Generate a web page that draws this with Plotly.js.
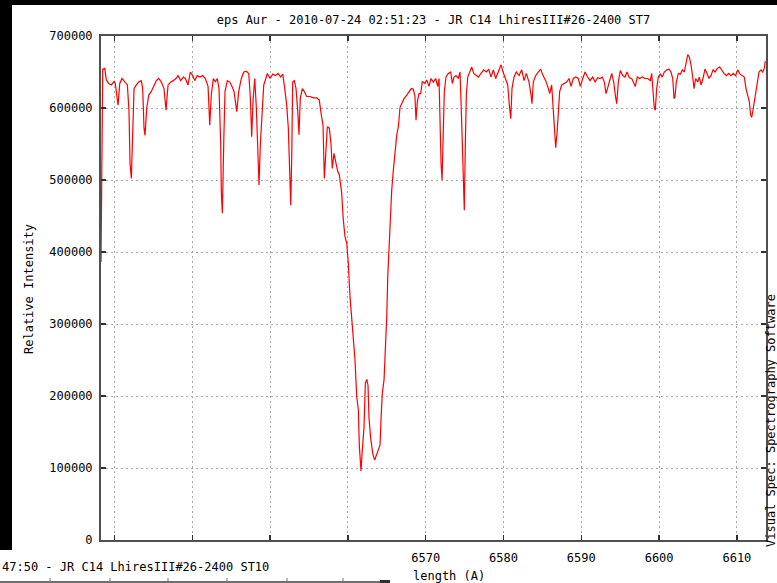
<!DOCTYPE html>
<html><head><meta charset="utf-8">
<script src="https://cdn.plot.ly/plotly-3.0.1.min.js"></script>
<style>html,body{margin:0;padding:0;background:#fff;}#chart{width:777px;height:583px;}</style>
</head><body><div id="chart"></div>
<script>
const wavelength = [
6528.26,6528.48,6528.74,6528.95,6529.25,6529.59,6529.94,6530.10,6530.45,6530.67,6530.96,6531.31,6531.65,6531.86,6531.99,6532.16,6532.34,6532.51,6532.80,6533.11,
6533.44,6533.62,6533.79,6533.92,6534.14,6534.40,6534.73,6535.08,6535.37,6535.68,6536.02,6536.36,6536.62,6536.88,6537.22,6537.56,6537.90,6538.16,6538.51,6538.84,
6539.10,6539.45,6539.74,6540.05,6540.31,6540.64,6540.99,6541.34,6541.67,6542.02,6542.24,6542.44,6542.70,6542.96,6543.21,6543.43,6543.65,6543.73,6543.86,6544.04,
6544.20,6544.50,6544.81,6545.10,6545.36,6545.71,6545.96,6546.30,6546.61,6546.94,6547.25,6547.46,6547.63,6547.80,6548.02,6548.23,6548.41,6548.57,6548.74,6548.92,
6549.18,6549.51,6549.64,6549.99,6550.33,6550.67,6551.02,6551.36,6551.62,6551.88,6552.13,6552.34,6552.52,6552.65,6552.78,6552.90,6553.11,6553.33,6553.55,6553.71,
6553.88,6554.14,6554.40,6554.70,6555.13,6555.55,6555.99,6556.32,6556.58,6556.80,6556.97,6557.15,6557.35,6557.61,6557.83,6557.99,6558.21,6558.47,6558.69,6558.89,
6559.20,6559.41,6559.63,6559.85,6560.05,6560.27,6560.49,6560.69,6560.91,6561.13,6561.34,6561.47,6561.68,6561.85,6562.07,6562.24,6562.42,6562.58,6562.71,6562.93,
6563.19,6563.44,6563.70,6563.96,6564.13,6564.25,6564.42,6564.64,6564.86,6564.99,6565.12,6565.28,6565.41,6565.63,6565.84,6566.05,6566.27,6566.48,6566.70,6566.91,
6567.21,6567.56,6567.89,6568.15,6568.41,6568.62,6568.75,6568.92,6569.14,6569.36,6569.56,6569.91,6570.13,6570.42,6570.68,6570.98,6571.28,6571.54,6571.71,6571.84,
6571.97,6572.10,6572.22,6572.39,6572.61,6572.91,6573.21,6573.42,6573.64,6573.89,6574.19,6574.41,6574.58,6574.70,6574.83,6574.96,6575.09,6575.22,6575.40,6575.66,
6575.91,6576.17,6576.47,6576.76,6577.11,6577.45,6577.79,6578.10,6578.39,6578.69,6578.99,6579.33,6579.68,6579.94,6580.19,6580.54,6580.75,6580.93,6581.09,6581.35,
6581.65,6581.99,6582.34,6582.64,6582.93,6583.28,6583.54,6583.66,6583.83,6584.14,6584.47,6584.78,6585.08,6585.42,6585.68,6585.94,6586.19,6586.40,6586.58,6586.71,
6586.88,6587.04,6587.22,6587.48,6587.82,6588.12,6588.42,6588.68,6588.97,6589.28,6589.61,6589.87,6590.18,6590.48,6590.82,6591.12,6591.47,6591.76,6592.11,6592.40,
6592.70,6592.96,6593.18,6593.39,6593.65,6593.91,6594.16,6594.37,6594.55,6594.76,6595.01,6595.32,6595.62,6595.87,6596.17,6596.48,6596.73,6596.94,6597.20,6597.51,
6597.84,6598.19,6598.53,6598.87,6599.05,6599.22,6599.38,6599.51,6599.69,6599.90,6600.15,6600.41,6600.67,6600.98,6601.27,6601.53,6601.75,6601.92,6602.04,6602.21,
6602.47,6602.73,6602.98,6603.24,6603.46,6603.68,6603.88,6604.10,6604.32,6604.49,6604.70,6604.96,6605.17,6605.39,6605.64,6605.90,6606.16,6606.41,6606.67,6606.93,
6607.19,6607.48,6607.79,6608.05,6608.34,6608.64,6608.95,6609.24,6609.54,6609.84,6610.10,6610.40,6610.69,6610.95,6611.17,6611.39,6611.59,6611.77,6611.90,6612.07,
6612.24,6612.42,6612.62,6612.84,6613.10,6613.31,6613.52,6613.65
];
const intensity = [
386000,654000,655000,639000,634000,632000,637000,634000,604000,634000,641000,636000,632000,595000,523000,502000,562000,627000,632000,636000,
638000,627000,572000,562000,600000,618000,623000,632000,638000,641000,636000,627000,597000,632000,636000,638000,641000,645000,638000,643000,
641000,632000,650000,645000,638000,645000,643000,645000,641000,630000,576000,618000,641000,636000,641000,627000,549000,482000,454000,553000,
623000,638000,636000,630000,623000,595000,623000,641000,650000,651000,648000,614000,560000,609000,641000,600000,535000,493000,549000,586000,
632000,643000,648000,641000,647000,645000,648000,643000,647000,627000,604000,572000,502000,465000,535000,636000,638000,627000,595000,563000,
614000,627000,623000,616000,616000,614000,614000,611000,590000,576000,502000,544000,574000,572000,549000,516000,537000,523000,512000,507000,
482000,444000,421000,412000,384000,338000,310000,287000,250000,199000,181000,130000,96000,125000,157000,218000,223000,215000,169000,141000,
120000,111000,120000,127000,132000,167000,204000,222000,273000,310000,366000,403000,454000,486000,514000,542000,562000,574000,601000,606000,
613000,618000,623000,627000,626000,616000,583000,609000,620000,620000,637000,634000,639000,630000,641000,636000,641000,630000,641000,562000,
523000,500000,572000,623000,643000,648000,650000,634000,643000,645000,641000,650000,595000,539000,488000,458000,549000,618000,643000,650000,
657000,648000,645000,643000,648000,653000,650000,654000,643000,653000,641000,650000,660000,650000,643000,632000,604000,585000,627000,643000,
650000,645000,653000,638000,648000,636000,618000,606000,636000,645000,650000,654000,645000,638000,630000,620000,632000,595000,553000,545000,
565000,588000,623000,632000,634000,636000,641000,630000,641000,643000,641000,630000,641000,650000,643000,638000,643000,636000,642000,641000,
643000,636000,620000,630000,638000,648000,636000,618000,606000,636000,652000,645000,643000,650000,642000,641000,634000,630000,643000,641000,
643000,641000,641000,638000,648000,614000,600000,597000,627000,643000,647000,643000,650000,653000,654000,650000,641000,613000,616000,636000,
648000,647000,653000,650000,662000,674000,671000,660000,643000,627000,641000,636000,643000,632000,641000,654000,648000,641000,645000,653000,
650000,655000,657000,652000,648000,645000,648000,645000,648000,645000,653000,647000,645000,643000,627000,618000,609000,590000,587000,597000,
609000,625000,638000,650000,653000,650000,655000,665000
];
const xTickValues = [6530,6540,6550,6560,6570,6580,6590,6600,6610];
const xTickLabels = ['','','','','6570','6580','6590','6600','6610'];
const yTickValues = [0,100000,200000,300000,400000,500000,600000,700000];
const chartTitle = 'eps Aur - 2010-07-24 02:51:23 - JR C14 LhiresIII#26-2400 ST7';
const yTitle = 'Relative Intensity';
const xTitleVisible = 'length (A)';
const sideNote = 'Visual Spec: Spectrography Software';
const overlayTitle = '47:50 - JR C14 LhiresIII#26-2400 ST10';
const overlayTicks = [50,110,168,227,287,343];

const W=777,H=583,L=101,R=11,T=36,B=43;
const PW=W-L-R, PH=H-T-B;
const pxX = x => (x-L)/PW;
const pxY = y => (H-B-y)/PH;
const mono = 'DejaVu Sans Mono, monospace';

const shapes = [
  {type:'rect',xref:'paper',yref:'paper',x0:pxX(0),x1:pxX(12),y0:pxY(550),y1:pxY(0),fillcolor:'#000',line:{width:0},layer:'above'},
  {type:'rect',xref:'paper',yref:'paper',x0:pxX(0),x1:pxX(W),y0:pxY(5),y1:pxY(0),fillcolor:'#000',line:{width:0},layer:'above'},
  {type:'line',xref:'paper',yref:'paper',x0:pxX(0),x1:pxX(390),y0:pxY(582),y1:pxY(582),line:{color:'#707070',width:2},layer:'above'},
  {type:'rect',xref:'paper',yref:'paper',x0:pxX(380),x1:pxX(390),y0:pxY(583),y1:pxY(580),fillcolor:'#303030',line:{width:0},layer:'above'}
];
overlayTicks.forEach(t => shapes.push({type:'line',xref:'paper',yref:'paper',x0:pxX(t),x1:pxX(t),y0:pxY(582),y1:pxY(578),line:{color:'#707070',width:1},layer:'above'}));

const annotations = [
  {text:yTitle,xref:'paper',yref:'paper',x:pxX(29),y:pxY(289),textangle:-90,showarrow:false,xanchor:'center',yanchor:'middle',font:{family:mono,size:12,color:'#000'}},
  {text:xTitleVisible,xref:'paper',yref:'paper',x:pxX(411),y:pxY(576),showarrow:false,xanchor:'left',yanchor:'middle',font:{family:mono,size:12,color:'#000'}},
  {text:sideNote,xref:'paper',yref:'paper',x:pxX(771),y:pxY(421),textangle:-90,showarrow:false,xanchor:'center',yanchor:'middle',font:{family:mono,size:12,color:'#000'}},
  {text:overlayTitle,xref:'paper',yref:'paper',x:pxX(0),y:pxY(567),showarrow:false,xanchor:'left',yanchor:'middle',font:{family:mono,size:12,color:'#000'}}
];

const trace = {x:wavelength,y:intensity,type:'scatter',mode:'lines',line:{color:'#ff0000',width:1.2},hoverinfo:'skip'};

const axisCommon = {showline:true,linecolor:'#505050',linewidth:2,mirror:'ticks',ticks:'inside',ticklen:5,tickwidth:1.5,tickcolor:'#303030',
  showgrid:true,gridcolor:'#a8a8a8',gridwidth:1,griddash:'2px,3px',zeroline:false,tickfont:{family:mono,size:12,color:'#000'}};

const layout = {
  width:W,height:H,margin:{l:L,r:R,t:T,b:B,pad:0},paper_bgcolor:'#fff',plot_bgcolor:'#fff',showlegend:false,
  title:{text:chartTitle,font:{family:mono,size:12,color:'#000'},x:0.5,xref:'paper',xanchor:'center',y:1-20/H,yref:'container',yanchor:'middle'},
  xaxis:Object.assign({},axisCommon,{range:[6528.26,6613.74],tickmode:'array',tickvals:xTickValues,ticktext:xTickLabels,ticklabelstandoff:6}),
  yaxis:Object.assign({},axisCommon,{range:[0,700000],tickmode:'array',tickvals:yTickValues,tickformat:'d',ticklabelstandoff:4}),
  shapes:shapes,annotations:annotations
};
Plotly.newPlot('chart',[trace],layout,{staticPlot:true,displayModeBar:false});
</script></body></html>
